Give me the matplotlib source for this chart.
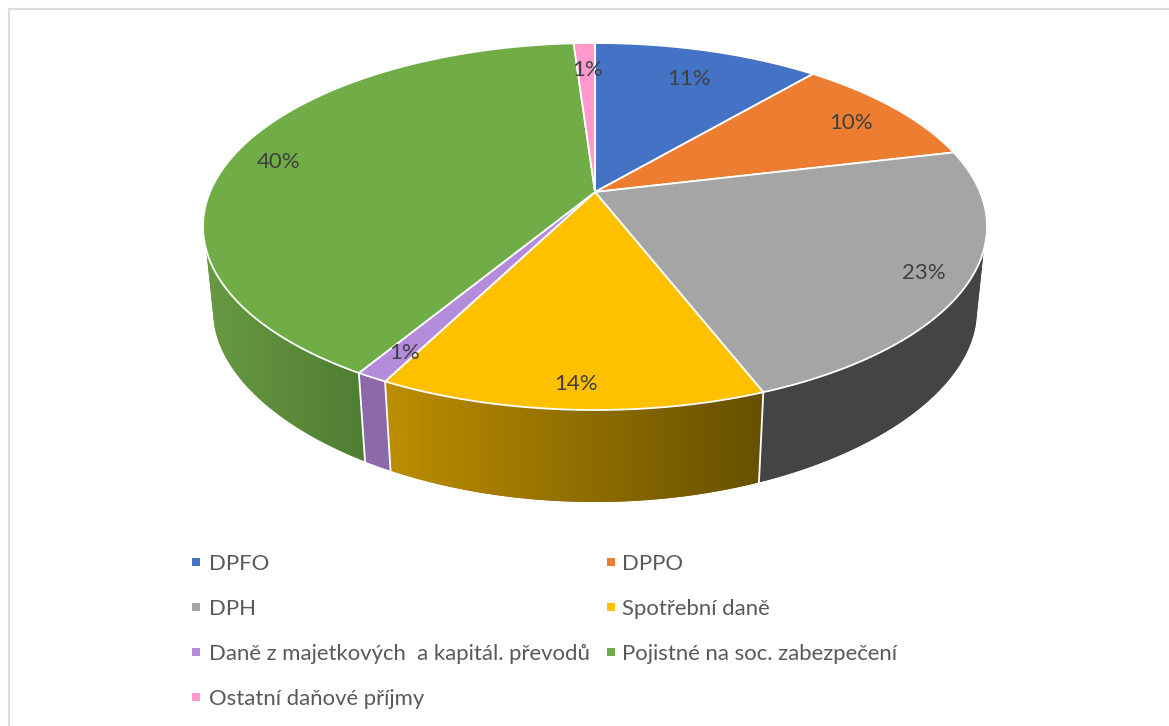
import numpy as np
import matplotlib
matplotlib.use("Agg")
import matplotlib.pyplot as plt
from matplotlib.patches import Polygon, Rectangle
from matplotlib.colors import to_rgb

categories = ["DPFO", "DPPO", "DPH", "Spotřební daně",
              "Daně z majetkových  a kapitál. převodů",
              "Pojistné na soc. zabezpečení", "Ostatní daňové příjmy"]
values = [11.2, 10.05, 22.88, 13.37, 1.1, 40.35, 1.05]
value_labels = ["11%", "10%", "23%", "14%", "1%", "40%", "1%"]
top_colors = ["#4472C4", "#ED7D31", "#A5A5A5", "#FFC000", "#B58BDB", "#70AD47", "#FF99CC"]
side_left = ["#2F5597", "#A04F1B", "#444444", "#BD8E00", "#8C69AA", "#689A42", "#B06A8C"]
side_right = ["#2F5597", "#A04F1B", "#444444", "#665000", "#8C69AA", "#4F7D33", "#B06A8C"]
label_radius = [0.80, 0.85, 0.90, 0.90, 0.88, 0.87, 0.80]
label_nudge = [(1, 3), (-1, 4), (-4, 1), (2, 1), (2, 2), (-3, 5), (1, 1)]

W, H = 1169, 726
fig = plt.figure(figsize=(W / 100, H / 100), dpi=100)
ax = fig.add_axes([0, 0, 1, 1])
ax.set_xlim(0, W)
ax.set_ylim(H, 0)
ax.axis("off")
plt.rcParams["font.family"] = ["Lato", "DejaVu Sans"]

CX, CY = 595, 192          # apex of the pie on screen
A, B, K = 177.0, 385.0, 0.188
BOT_A, BOT_K, BOT_Y, BOT_SX = 168.0, 0.25, 278.0, 0.974


def top_pt(theta, r=1.0):
    t = np.radians(theta)
    u, v = r * np.sin(t), r * np.cos(t)
    d = 1 + K * v
    return CX + B * u / d, CY - A * v / d


def bot_pt(theta):
    t = np.radians(theta)
    u, v = np.sin(t), np.cos(t)
    x = CX + BOT_SX * B * u / (1 + K * v)
    y = BOT_Y - BOT_A * v / (1 + BOT_K * v)
    return x, y


cum = np.concatenate([[0], np.cumsum(values)])
ang = cum / cum[-1] * 360
SIL_TOP = (108.0, 252.0)   # where the rim turns away from the viewer
SIL_BOT = (104.5, 255.5)   # extreme points of the bottom ring

# sides: a horizontal gradient clipped to each visible wall
for i in range(len(values)):
    a0, a1 = ang[i], ang[i + 1]
    lo, hi = max(a0, SIL_TOP[0]), min(a1, SIL_TOP[1])
    if hi <= lo:
        continue
    b_lo = SIL_BOT[0] if lo == SIL_TOP[0] else lo
    b_hi = SIL_BOT[1] if hi == SIL_TOP[1] else hi
    pts = [top_pt(t) for t in np.linspace(lo, hi, 200)] + \
          [bot_pt(t) for t in np.linspace(b_hi, b_lo, 200)]
    pts = np.array(pts)
    c_right = np.array(to_rgb(side_right[i]))
    c_left = np.array(to_rgb(side_left[i]))
    xmin, xmax, ymin, ymax = pts[:, 0].min(), pts[:, 0].max(), pts[:, 1].min(), pts[:, 1].max()
    f = np.linspace(0, 1, 256)[None, :, None]
    img = c_left[None, None, :] * (1 - f) + c_right[None, None, :] * f
    poly = Polygon(pts, closed=True, facecolor=(c_left + c_right) / 2, edgecolor="none", zorder=2)
    ax.add_patch(poly)
    im = ax.imshow(img, extent=(xmin, xmax, ymax, ymin), aspect="auto", zorder=2.1,
                   interpolation="bilinear")
    im.set_clip_path(poly)

ax.set_xlim(0, W)
ax.set_ylim(H, 0)

# side separators
for i in range(len(values)):
    if SIL_TOP[0] < ang[i] < SIL_TOP[1]:
        p, q = top_pt(ang[i]), bot_pt(ang[i])
        ax.plot([p[0], q[0]], [p[1], q[1]], color="white", lw=1.3, zorder=3)

# top slices
for i in range(len(values)):
    th = np.linspace(ang[i], ang[i + 1], max(3, int((ang[i + 1] - ang[i]) * 3)))
    rim = [top_pt(t) for t in th]
    ax.add_patch(Polygon([(CX, CY)] + rim, closed=True, facecolor=top_colors[i],
                         edgecolor="white", lw=1.3, joinstyle="round", zorder=4))

# data labels
for i, lab in enumerate(value_labels):
    x, y = top_pt((ang[i] + ang[i + 1]) / 2, label_radius[i])
    ax.text(x + label_nudge[i][0], y + label_nudge[i][1], lab, ha="center", va="center",
            fontsize=16, color="#404040", zorder=6)

# legend
leg_x = [196, 611]
leg_text_x = [209, 622]
leg_y = [562, 607, 652, 697]
for i, name in enumerate(categories):
    col, row = i % 2, i // 2
    ax.add_patch(Rectangle((leg_x[col] - 4, leg_y[row] - 4), 8, 8, facecolor=top_colors[i],
                           edgecolor="none", zorder=5))
    ax.text(leg_text_x[col], leg_y[row], name, ha="left", va="center_baseline", fontsize=15.9,
            color="#595959", zorder=6)

# chart frame
ax.plot([9, 9, W], [H, 9, 9], color="#DCDCDC", lw=1.5, zorder=1)

fig.savefig("out.png", dpi=100, facecolor="white")
